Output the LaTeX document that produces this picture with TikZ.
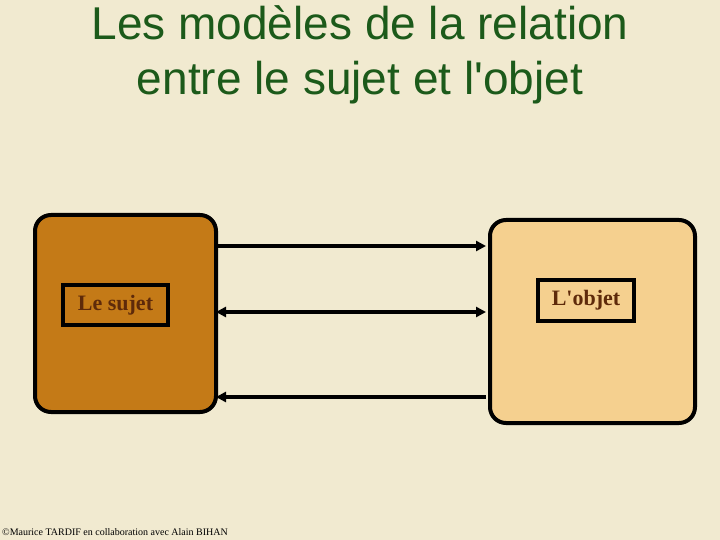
\documentclass[tikz,border=0pt]{standalone}
\usepackage{fontspec}
\setmainfont{Liberation Serif}
\newfontfamily\titlefont{Liberation Sans}
\usetikzlibrary{arrows.meta}
\definecolor{bg}{HTML}{F1EAD0}
\definecolor{titlegreen}{HTML}{1C5A1A}
\definecolor{sujetfill}{HTML}{C47A17}
\definecolor{objetfill}{HTML}{F5D08F}
\definecolor{labelbrown}{HTML}{5E2A0A}
\tikzset{
  bigbox/.style={draw=black, line width=4pt, rounded corners=16pt},
  labelbox/.style={draw=black, line width=4pt, inner sep=0pt, font=\bfseries\fontsize{22}{24}\selectfont, text=labelbrown},
  titletext/.style={font=\titlefont\fontsize{46}{56}\selectfont, text=titlegreen, anchor=base, inner sep=0pt},
  link/.style={line width=4pt, -{Triangle[length=10pt,width=10pt]}},
  blink/.style={line width=4pt, {Triangle[length=10pt,width=10pt]}-{Triangle[length=10pt,width=10pt]}},
  rlink/.style={line width=4pt, {Triangle[length=10pt,width=10pt]}-},
}
\begin{document}
\begin{tikzpicture}[x=1pt,y=-1pt]
\fill[bg] (0,0) rectangle (720,540);
\useasboundingbox (0,0) rectangle (720,540);
\node[titletext] (title1) at (360,40) {Les modèles de la relation};
\node[titletext] (title2) at (360,95) {entre le sujet et l\textquotesingle objet};
\node[bigbox, fill=sujetfill, minimum width=181pt, minimum height=197pt, anchor=north west] (sujet) at (33,213) {};
\node[bigbox, fill=objetfill, minimum width=205pt, minimum height=203pt, anchor=north west] (objet) at (488,218) {};
\node[labelbox, fill=sujetfill, minimum width=105pt, minimum height=40pt] (ls) at (115.5,305) {Le sujet};
\node[labelbox, fill=objetfill, minimum width=96pt, minimum height=41pt] (lo) at (586,300.5) {L\textquotesingle objet};
\coordinate (a1) at (216,246);
\coordinate (b1) at (486,246);
\coordinate (a2) at (216,312);
\coordinate (b2) at (486,312);
\coordinate (a3) at (216,397);
\coordinate (b3) at (486,397);
\draw[link] (a1) -- (b1);
\draw[blink] (a2) -- (b2);
\draw[rlink] (a3) -- (b3);
\node[anchor=base west, inner sep=0pt, font=\fontsize{10}{11}\selectfont] (foot) at (2,535) {©Maurice TARDIF en collaboration avec Alain BIHAN};
\end{tikzpicture}
\end{document}
